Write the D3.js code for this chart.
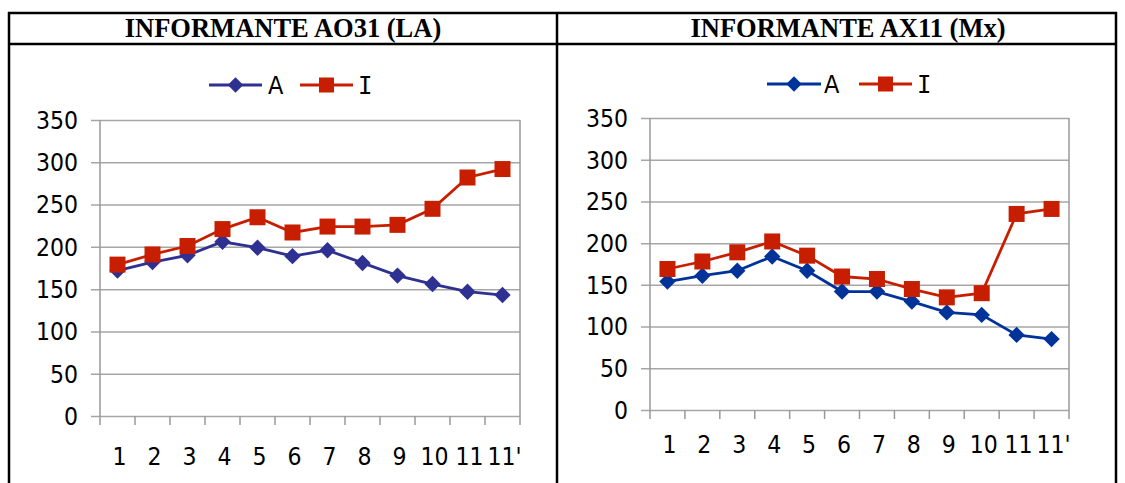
<!DOCTYPE html>
<html>
<head>
<meta charset="utf-8">
<script src="https://cdn.jsdelivr.net/npm/d3@7"></script>
<style>
  html, body { margin: 0; padding: 0; background: #fff; }
  svg { display: block; }
  .lab { font-family: "DejaVu Sans", Verdana, sans-serif; font-stretch: condensed; }
</style>
</head>
<body>
<svg id="chart" width="1125" height="483"></svg>
<script>
// Categories along the x axis (shared by both panels)
const categories = ["1", "2", "3", "4", "5", "6", "7", "8", "9", "10", "11", "11'"];
const yTicks = [0, 50, 100, 150, 200, 250, 300, 350];

// Informante AO31 (LA)
const ao31A = [172, 182, 190, 206, 199, 189, 196, 181, 166, 156, 147, 143];
const ao31I = [179, 191, 201, 221, 235, 217, 224, 224, 226, 245, 282, 292];

// Informante AX11 (Mx)
const ax11A = [154, 161, 167, 184, 167, 142, 142, 130, 117, 114, 90, 85];
const ax11I = [169, 178, 189, 202, 185, 160, 157, 145, 135, 140, 235, 241];

const titles = ["INFORMANTE AO31 (LA)", "INFORMANTE AX11 (Mx)"];
const seriesNames = ["A", "I"];

const svg = d3.select("#chart");
const RED = "#c81e00";

// Table frame around the two panels
const frame = svg.append("g").attr("stroke", "#000").attr("stroke-width", 2.5);
frame.append("line").attr("x1", 8).attr("x2", 1117).attr("y1", 13).attr("y2", 13);
frame.append("line").attr("x1", 8).attr("x2", 1117).attr("y1", 44).attr("y2", 44);
frame.append("line").attr("x1", 9).attr("x2", 9).attr("y1", 12).attr("y2", 483);
frame.append("line").attr("x1", 557).attr("x2", 557).attr("y1", 12).attr("y2", 483);
frame.append("line").attr("x1", 1116).attr("x2", 1116).attr("y1", 12).attr("y2", 483);

const panels = [
  { title: titles[0], cx: 283, A: ao31A, I: ao31I, blue: "#2e3192",
    left: 100, right: 520, top: 120, bottom: 416, labelY: 456,
    legend: { lineA: [209, 262], A: 268, lineI: [300, 353], I: 358, y: 85 } },
  { title: titles[1], cx: 848, A: ax11A, I: ax11I, blue: "#003399",
    left: 650, right: 1069, top: 118, bottom: 410, labelY: 444,
    legend: { lineA: [767, 821], A: 824, lineI: [859, 912], I: 917, y: 84 } }
];

function diamond(g, x, y, color, r) {
  g.append("rect")
    .attr("x", -r).attr("y", -r).attr("width", 2 * r).attr("height", 2 * r)
    .attr("transform", `translate(${x},${y}) rotate(45)`)
    .attr("fill", color);
}
function square(g, x, y, color, s) {
  g.append("rect")
    .attr("x", x - s / 2).attr("y", y - s / 2).attr("width", s).attr("height", s)
    .attr("fill", color);
}

panels.forEach(p => {
  // Header title
  svg.append("text")
    .attr("x", p.cx).attr("y", 37)
    .attr("text-anchor", "middle")
    .attr("font-family", "Liberation Serif, Times New Roman, serif")
    .attr("font-weight", "bold")
    .attr("font-size", 26.5)
    .attr("fill", "#000")
    .text(p.title);

  const x = d3.scaleBand().domain(categories).range([p.left, p.right]).padding(0);
  const y = d3.scaleLinear().domain([0, 350]).range([p.bottom, p.top]);

  const g = svg.append("g");

  // Horizontal gridlines with left tick stubs
  g.append("g")
    .attr("transform", `translate(${p.left},0)`)
    .call(d3.axisLeft(y).tickValues(yTicks).tickSize(-(p.right - p.left)).tickFormat(""))
    .call(a => a.select(".domain").remove())
    .call(a => a.selectAll("line").attr("stroke", "#a6a6a6").attr("stroke-width", 1.5).attr("x1", -9));

  // Plot area side borders
  g.append("line").attr("x1", p.left).attr("x2", p.left).attr("y1", p.top).attr("y2", p.bottom)
    .attr("stroke", "#999").attr("stroke-width", 1.5);
  g.append("line").attr("x1", p.right).attr("x2", p.right).attr("y1", p.top).attr("y2", p.bottom)
    .attr("stroke", "#999").attr("stroke-width", 1.5);

  // Y labels
  g.selectAll("text.ylab").data(yTicks).join("text")
    .attr("class", "ylab lab")
    .attr("x", p.left - 22).attr("y", d => y(d))
    .attr("dy", "0.36em")
    .attr("text-anchor", "end")
    .attr("font-size", 24.5)
    .attr("fill", "#000")
    .text(d => d);

  // X category boundary ticks
  const bounds = categories.map(c => x(c)).concat([p.right]);
  g.selectAll("line.xt").data(bounds).join("line")
    .attr("x1", d => d).attr("x2", d => d)
    .attr("y1", p.bottom).attr("y2", p.bottom + 9)
    .attr("stroke", "#999").attr("stroke-width", 1.5);

  // X labels
  g.selectAll("text.xlab").data(categories).join("text")
    .attr("class", "xlab lab")
    .attr("x", d => x(d) + x.bandwidth() / 2 + 2)
    .attr("y", p.labelY)
    .attr("dy", "0.36em")
    .attr("text-anchor", "middle")
    .attr("font-size", 24.5)
    .attr("fill", "#000")
    .text(d => d);

  const line = d3.line()
    .x((d, i) => x(categories[i]) + x.bandwidth() / 2)
    .y(d => y(d));

  // Series A (blue diamonds)
  g.append("path").datum(p.A).attr("d", line)
    .attr("fill", "none").attr("stroke", p.blue).attr("stroke-width", 2.8);
  p.A.forEach((v, i) => diamond(g, x(categories[i]) + x.bandwidth() / 2, y(v), p.blue, 5.8));

  // Series I (red squares)
  g.append("path").datum(p.I).attr("d", line)
    .attr("fill", "none").attr("stroke", RED).attr("stroke-width", 2.8);
  p.I.forEach((v, i) => square(g, x(categories[i]) + x.bandwidth() / 2, y(v), RED, 16));

  // Legend
  const L = p.legend;
  const lg = svg.append("g");
  lg.append("line").attr("x1", L.lineA[0]).attr("x2", L.lineA[1]).attr("y1", L.y).attr("y2", L.y)
    .attr("stroke", p.blue).attr("stroke-width", 2.8);
  diamond(lg, (L.lineA[0] + L.lineA[1]) / 2, L.y, p.blue, 5.5);
  lg.append("text").attr("class", "lab").attr("x", L.A).attr("y", L.y).attr("dy", "0.36em")
    .attr("font-size", 25)
    .attr("fill", "#000").text(seriesNames[0]);
  lg.append("line").attr("x1", L.lineI[0]).attr("x2", L.lineI[1]).attr("y1", L.y).attr("y2", L.y)
    .attr("stroke", RED).attr("stroke-width", 2.8);
  square(lg, (L.lineI[0] + L.lineI[1]) / 2, L.y, RED, 15);
  lg.append("text").attr("x", L.I).attr("y", L.y).attr("dy", "0.36em")
    .attr("font-family", "DejaVu Sans Mono, monospace").attr("font-size", 24)
    .attr("fill", "#000").text(seriesNames[1]);
});
</script>
</body>
</html>
